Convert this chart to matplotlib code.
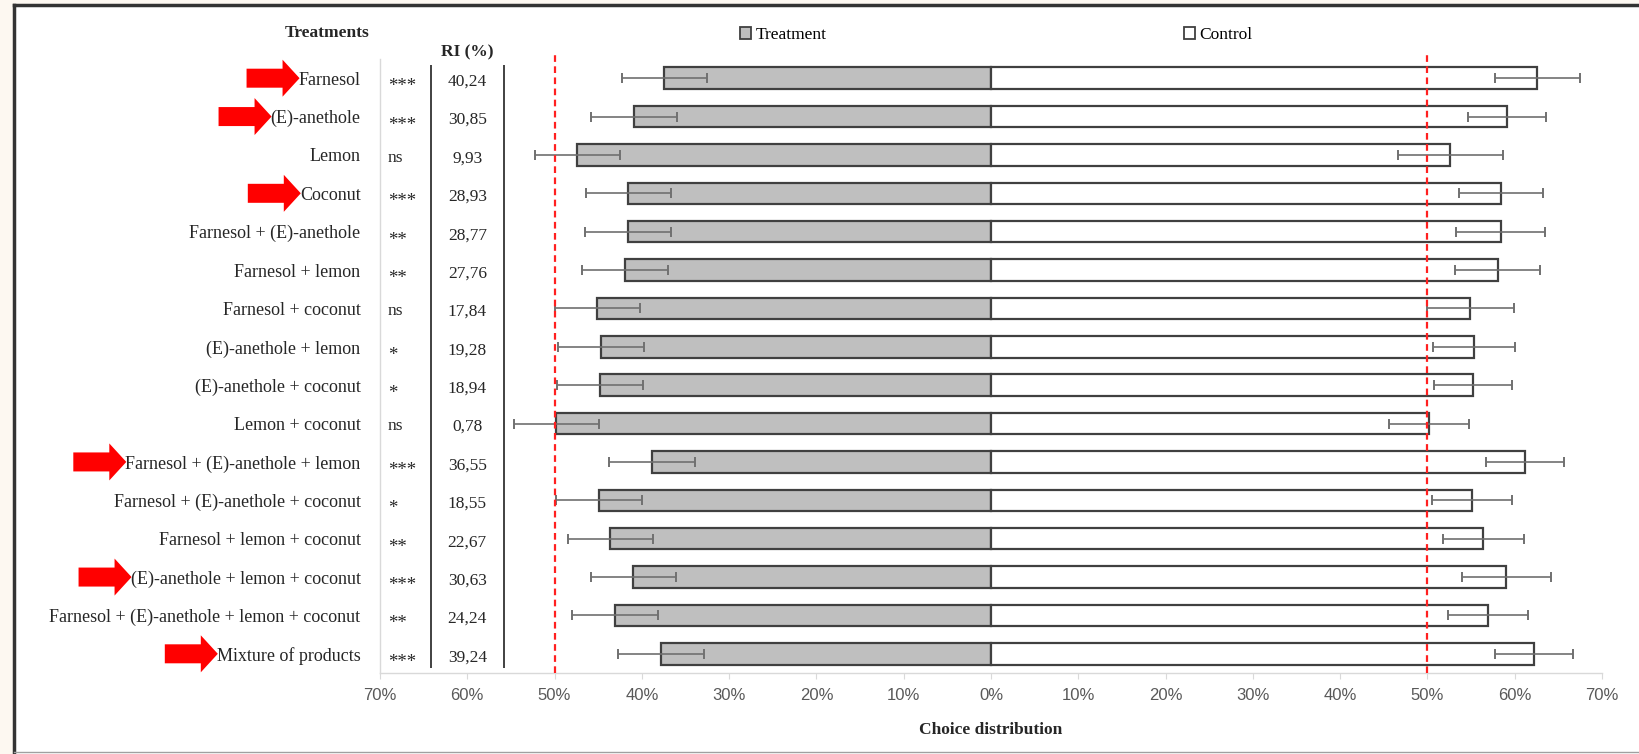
"""
Choice distribution (treatment vs control) with repellency index table.
"""
import numpy as np
import matplotlib
matplotlib.use('Agg')
import matplotlib.pyplot as plt
from matplotlib.patches import Patch, FancyArrow, Rectangle
from matplotlib.lines import Line2D

# ===== Data =====
treatments = ['Farnesol', '(E)-anethole', 'Lemon', 'Coconut',
              'Farnesol + (E)-anethole', 'Farnesol + lemon', 'Farnesol + coconut',
              '(E)-anethole + lemon', '(E)-anethole + coconut', 'Lemon + coconut',
              'Farnesol + (E)-anethole + lemon', 'Farnesol + (E)-anethole + coconut',
              'Farnesol + lemon + coconut', '(E)-anethole + lemon + coconut',
              'Farnesol + (E)-anethole + lemon + coconut', 'Mixture of products']
signif = ['***', '***', 'ns', '***', '**', '**', 'ns', '*', '*', 'ns',
          '***', '*', '**', '***', '**', '***']
ri = ['40,24', '30,85', '9,93', '28,93', '28,77', '27,76', '17,84', '19,28',
      '18,94', '0,78', '36,55', '18,55', '22,67', '30,63', '24,24', '39,24']
treatment_pct = [37.41, 40.88, 47.39, 41.54, 41.60, 41.94, 45.10, 44.67,
                 44.77, 49.80, 38.82, 44.89, 43.61, 40.96, 43.10, 37.80]
control_pct = [62.59, 59.12, 52.61, 58.46, 58.40, 58.06, 54.90, 55.33,
               55.23, 50.20, 61.18, 55.11, 56.39, 59.04, 56.90, 62.20]
treatment_err = [4.9, 4.9, 4.9, 4.9, 4.9, 4.9, 4.9, 4.9,
                 4.9, 4.9, 4.9, 4.9, 4.9, 4.9, 4.9, 4.9]
control_err = [4.9, 4.5, 6.0, 4.8, 5.1, 4.85, 5.0, 4.7,
               4.5, 4.6, 4.5, 4.6, 4.65, 5.1, 4.6, 4.5]
ticks = np.arange(-70, 71, 10)

SERIF = ['Liberation Serif', 'DejaVu Serif']
SANS = ['Liberation Sans', 'DejaVu Sans']
TXT = '#262626'

# ===== Figure =====
W, H = 1639, 754
fig = plt.figure(figsize=(W / 100, H / 100), dpi=100, facecolor='#fdf8f1')

# white panel with frame
fig.add_artist(Rectangle((14 / W, 0), 1, 1 - 5 / H, transform=fig.transFigure,
                         facecolor='white', edgecolor='none', zorder=-10))
fig.add_artist(Line2D([14 / W, 14 / W], [0, 1 - 5 / H], transform=fig.transFigure,
                      color='#333333', lw=2.5))
fig.add_artist(Line2D([14 / W, 1], [1 - 5 / H, 1 - 5 / H], transform=fig.transFigure,
                      color='#333333', lw=2.5))
fig.add_artist(Line2D([14 / W, 1], [2 / H, 2 / H], transform=fig.transFigure,
                      color='#a0a0a0', lw=1))

ax = fig.add_axes([380 / W, 1 - 673 / H, 1222 / W, 614 / H])
ax.set_facecolor('none')

y = np.arange(len(treatments))
bar_h = 0.56
ax.barh(y, -np.array(treatment_pct), height=bar_h, color='#bfbfbf',
        edgecolor='#404040', linewidth=1.6, zorder=2)
ax.barh(y, control_pct, height=bar_h, color='white',
        edgecolor='#404040', linewidth=1.6, zorder=2)
ax.errorbar(-np.array(treatment_pct), y, xerr=treatment_err, fmt='none',
            ecolor='#707070', elinewidth=1.2, capsize=3.5, capthick=1.4, zorder=3)
ax.errorbar(control_pct, y, xerr=control_err, fmt='none',
            ecolor='#707070', elinewidth=1.2, capsize=3.5, capthick=1.4, zorder=3)

for xv in (-50, 50):
    ax.axvline(xv, ymin=0, ymax=1.012, color='#ff2020', lw=1.6,
               dashes=(3, 2), clip_on=False, zorder=4)

ax.set_xlim(-70, 70)
ax.set_ylim(len(treatments) - 0.5, -0.5)
ax.set_xticks(ticks)
ax.set_xticklabels(['%d%%' % abs(t) for t in ticks], family=SANS,
                   fontsize=12, color='#595959')
ax.tick_params(axis='x', length=4, color='#d9d9d9', pad=7)
ax.set_yticks(y)
ax.set_yticklabels(treatments, family=SERIF, fontsize=13, color=TXT)
ax.tick_params(axis='y', length=0, pad=14)
for s in ('top', 'right'):
    ax.spines[s].set_visible(False)
for s in ('left', 'bottom'):
    ax.spines[s].set_color('#d9d9d9')
    ax.spines[s].set_linewidth(1)

ax.set_xlabel('Choice distribution', family=SERIF, fontsize=12.5,
              fontweight='bold', color=TXT)
ax.xaxis.set_label_coords(0.5, -0.093)
ax.xaxis.label.set_va('center')

# table columns: significance and RI
for i in y:
    # asterisks sit high in the serif font, push them down to mid-row
    dy = 0.22 if signif[i].startswith('*') else 0.07
    ax.text(-69.1, i + dy, signif[i], ha='left', va='center', family=SERIF,
            fontsize=13.5 if signif[i].startswith('*') else 12.5,
            color=TXT, clip_on=False)
    ax.text(-60, i + 0.09, ri[i], ha='center', va='center', family=SERIF,
            fontsize=12.5, color=TXT, clip_on=False)
ax.vlines([-64.1, -55.8], -0.35, 15.37, color='#333333', lw=1.3, zorder=1)
ax.text(-76.1, -1.18, 'Treatments', ha='center', va='center', family=SERIF,
        fontsize=12.5, fontweight='bold', color=TXT, clip_on=False)
ax.text(-60, -0.68, 'RI (%)', ha='center', va='center', family=SERIF,
        fontsize=12.5, fontweight='bold', color=TXT, clip_on=False)

# legend entries, placed apart like the original
leg_kw = dict(loc='center left', frameon=False, borderpad=0, borderaxespad=0,
              handlelength=0.65, handleheight=0.65, handletextpad=0.25,
              prop={'family': SERIF, 'size': 12.5})
leg1 = fig.legend([Patch(facecolor='#bfbfbf', edgecolor='#404040', lw=1.3)],
                  ['Treatment'], bbox_to_anchor=(740 / W, 1 - 35 / H), **leg_kw)
leg2 = fig.legend([Patch(facecolor='white', edgecolor='#404040', lw=1.3)],
                  ['Control'], bbox_to_anchor=(1184 / W, 1 - 35 / H), **leg_kw)

# red arrows pointing at the *** treatments
fig.canvas.draw()
renderer = fig.canvas.get_renderer()
labels = ax.get_yticklabels()
for i in y:
    if signif[i] != '***':
        continue
    bb = labels[i].get_window_extent(renderer)
    tip = bb.x0 + 1
    yc = ax.transData.transform((0, i))[1]
    fig.add_artist(FancyArrow((tip - 53) / W, yc / H, 53 / W, 0,
                              width=19 / H, head_width=37 / H, head_length=17 / W,
                              length_includes_head=True, transform=fig.transFigure,
                              color='#ff0000', lw=0))

fig.savefig('out.png', dpi=100, facecolor=fig.get_facecolor())
